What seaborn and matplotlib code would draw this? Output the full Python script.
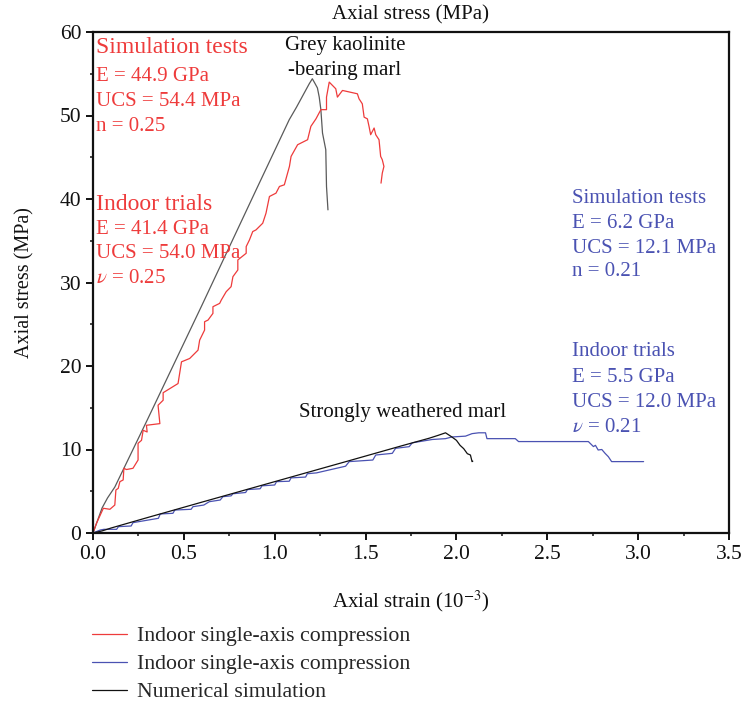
import numpy as np
import pandas as pd
import matplotlib
matplotlib.use("Agg")
import matplotlib.pyplot as plt
import seaborn as sns
from matplotlib.ticker import MultipleLocator

# ---- Grey kaolinite-bearing marl: numerical simulation ----
grey_sim_strain = [0, 0.02, 0.05, 0.08, 0.12, 0.3, 0.6, 0.9, 1.08, 1.12, 1.16, 1.19,
                   1.207, 1.22, 1.235, 1.245, 1.254, 1.263, 1.281, 1.285, 1.293]
grey_sim_stress = [0, 1.2, 3.0, 4.2, 5.5, 13.6, 27.3, 41.2, 49.5, 51.0, 52.6, 53.8,
                   54.4, 53.9, 53.3, 52.2, 50.7, 47.9, 45.9, 41.5, 38.7]

# ---- Grey kaolinite-bearing marl: indoor uniaxial compression ----
grey_lab_strain = [0, 0.02, 0.057, 0.093, 0.12, 0.126, 0.139, 0.148, 0.166, 0.17, 0.184,
                   0.22, 0.248, 0.248, 0.267, 0.276, 0.298, 0.294, 0.368, 0.358, 0.386,
                   0.386, 0.468, 0.487, 0.532, 0.578, 0.587, 0.614, 0.614, 0.633, 0.66,
                   0.66, 0.697, 0.706, 0.733, 0.76, 0.77, 0.797, 0.797, 0.843, 0.843,
                   0.861, 0.879, 0.897, 0.934, 0.952, 0.971, 1.007, 1.026, 1.053, 1.081,
                   1.09, 1.126, 1.181, 1.199, 1.227, 1.254, 1.285, 1.285, 1.30, 1.336,
                   1.345, 1.373, 1.455, 1.464, 1.482, 1.492, 1.51, 1.519, 1.528, 1.547,
                   1.556, 1.574, 1.583, 1.592, 1.601, 1.592, 1.585]
grey_lab_stress = [0, 1.2, 2.96, 2.84, 3.35, 5.15, 5.35, 6.15, 6.35, 7.75, 7.6,
                   7.75, 8.74, 10.74, 11.1, 12.3, 12.1, 12.9, 13.1, 15.3, 15.9,
                   16.8, 17.9, 20.5, 20.9, 21.9, 23.1, 24.3, 25.3, 25.5, 26.3,
                   27.1, 27.5, 27.9, 28.9, 29.5, 30.7, 31.5, 32.7, 33.5, 34.3,
                   35.1, 36.1, 36.3, 37.1, 38.3, 40.3, 40.7, 41.5, 41.7, 43.9,
                   45.1, 46.5, 47.1, 48.7, 49.6, 50.7, 50.7, 52.2, 54.0, 53.2,
                   52.2, 53.0, 52.6, 52.0, 51.4, 49.8, 49.6, 48.7, 47.7, 48.5,
                   47.7, 47.1, 45.1, 44.7, 43.9, 43.1, 41.9]

# ---- Strongly weathered marl: indoor uniaxial compression ----
weak_lab_strain = [0, 0.04, 0.06, 0.13, 0.14, 0.21, 0.22, 0.36, 0.37, 0.44, 0.45, 0.54,
                   0.55, 0.61, 0.64, 0.70, 0.715, 0.76, 0.77, 0.84, 0.85, 0.92, 0.93,
                   1.0, 1.01, 1.08, 1.09, 1.17, 1.18, 1.23, 1.39, 1.41, 1.54, 1.556,
                   1.647, 1.665, 1.74, 1.757, 1.867, 1.94, 1.975, 2.05, 2.086, 2.123,
                   2.16, 2.168, 2.324, 2.342, 2.726, 2.754, 2.765, 2.78, 2.80, 2.818,
                   2.836, 2.854, 3.03]
weak_lab_stress = [0, 0.36, 0.44, 0.44, 0.76, 0.84, 1.24, 1.76, 2.28, 2.36, 2.75, 2.84,
                   3.15, 3.35, 3.75, 3.95, 4.35, 4.45, 4.7, 4.85, 5.2, 5.3, 5.65,
                   5.75, 6.15, 6.2, 6.6, 6.7, 7.1, 7.2, 8.0, 8.55, 8.74, 9.34,
                   9.54, 10.14, 10.34, 10.8, 11.2, 11.3, 11.5, 11.6, 11.9, 12.0,
                   12.0, 11.3, 11.3, 10.95, 10.95, 10.35, 10.5, 9.94, 10.0, 9.54,
                   9.14, 8.55, 8.55]

# ---- Strongly weathered marl: numerical simulation ----
weak_sim_strain = [0, 0.05, 0.1, 0.3, 0.6, 1.0, 1.4, 1.7, 1.85, 1.9, 1.94, 1.975,
                   2.0, 2.02, 2.04, 2.06, 2.077, 2.086, 2.09]
weak_sim_stress = [0, 0.25, 0.6, 1.85, 3.7, 6.15, 8.6, 10.45, 11.35, 11.7, 12.0, 11.5,
                   11.1, 10.5, 10.1, 9.5, 9.34, 8.55, 8.6]

legend_labels = ["Indoor single-axis compression",
                 "Indoor single-axis compression",
                 "Numerical simulation"]

RED = "#ee3b3b"
BLUE = "#4a52b2"
GREY = "#5a5a5a"
BLACK = "#111111"

sns.set_theme(style="ticks")
plt.rcParams["font.family"] = ["Liberation Serif", "DejaVu Serif"]
plt.rcParams["mathtext.fontset"] = "stix"

fig = plt.figure(figsize=(7.41, 7.04), dpi=100)
ax = fig.add_axes([93 / 741, 1 - 533 / 704, (729 - 93) / 741, (533 - 32) / 704])


def frame(x, y):
    return pd.DataFrame({"strain": x, "stress": y})


lw = 0.9
sns.lineplot(data=frame(grey_sim_strain, grey_sim_stress), x="strain", y="stress",
             sort=False, estimator=None, color=GREY, lw=lw, ax=ax, legend=False)
sns.lineplot(data=frame(grey_lab_strain, grey_lab_stress), x="strain", y="stress",
             sort=False, estimator=None, color=RED, lw=lw, ax=ax, legend=False)
sns.lineplot(data=frame(weak_lab_strain, weak_lab_stress), x="strain", y="stress",
             sort=False, estimator=None, color=BLUE, lw=lw, ax=ax, legend=False)
sns.lineplot(data=frame(weak_sim_strain, weak_sim_stress), x="strain", y="stress",
             sort=False, estimator=None, color=BLACK, lw=lw, ax=ax, legend=False)

ax.set_xlim(0, 3.5)
ax.set_ylim(0, 60)
ax.xaxis.set_major_locator(MultipleLocator(0.5))
ax.xaxis.set_minor_locator(MultipleLocator(0.25))
ax.yaxis.set_major_locator(MultipleLocator(10))
ax.yaxis.set_minor_locator(MultipleLocator(5))
ax.set_xticklabels([f"{v:.1f}" for v in ax.get_xticks()])

for s in ax.spines.values():
    s.set_linewidth(1.6)
    s.set_color("#111111")
ax.tick_params(which="major", direction="out", length=5, width=1.4, labelsize=15.5,
               colors="#111111", top=False, right=False, pad=3.5)
ax.tick_params(which="minor", direction="out", length=2.5, width=1.2,
               top=False, right=False)

ax.set_xlabel("Axial strain (10$^{-3}$)", fontsize=15, labelpad=18, color="#111111")
ax.set_ylabel("Axial stress (MPa)", fontsize=14.5, labelpad=18, color="#111111")
ax.set_title("Axial stress (MPa)", fontsize=15, pad=9, color="#111111")

# Annotations: kaolinite-bearing marl (red)
ax.text(0.017, 58.1, "Simulation tests", color=RED, fontsize=17, va="center")
for yv, s in [(54.7, "E = 44.9 GPa"), (51.7, "UCS = 54.4 MPa"), (48.7, "n = 0.25")]:
    ax.text(0.017, yv, s, color=RED, fontsize=15, va="center")
ax.text(0.017, 39.3, "Indoor trials", color=RED, fontsize=17, va="center")
for yv, s in [(36.4, "E = 41.4 GPa"), (33.5, "UCS = 54.0 MPa"), (30.5, r"$\nu$ = 0.25")]:
    ax.text(0.017, yv, s, color=RED, fontsize=15, va="center")

# Annotations: weathered marl (blue)
for yv, s in [(40.1, "Simulation tests"), (37.1, "E = 6.2 GPa"),
              (34.1, "UCS = 12.1 MPa"), (31.3, "n = 0.21"),
              (21.7, "Indoor trials"), (18.6, "E = 5.5 GPa"),
              (15.6, "UCS = 12.0 MPa"), (12.6, r"$\nu$ = 0.21")]:
    ax.text(2.636, yv, s, color=BLUE, fontsize=15, va="center")

ax.text(1.387, 58.4, "Grey kaolinite", color=BLACK, fontsize=15, ha="center", va="center")
ax.text(1.387, 55.4, "-bearing marl", color=BLACK, fontsize=15, ha="center", va="center")
ax.text(1.705, 14.4, "Strongly weathered marl", color=BLACK, fontsize=15,
        ha="center", va="center")

handles = [plt.Line2D([], [], color=c, lw=lw) for c in (RED, BLUE, BLACK)]
fig.legend(handles, legend_labels, loc="upper left", bbox_to_anchor=(92 / 741, 1 - 626 / 704),
           frameon=False, fontsize=15.7, handlelength=1.6, handletextpad=0.45,
           labelspacing=0.36, borderaxespad=0, borderpad=0)

fig.savefig("out.png", dpi=100)
